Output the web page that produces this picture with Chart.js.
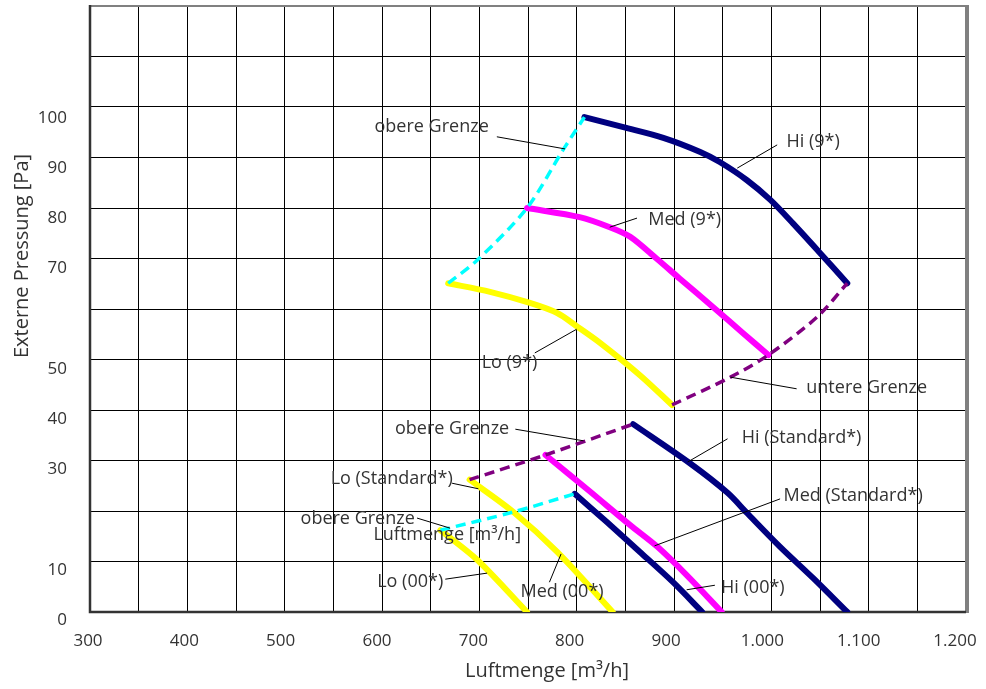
<!DOCTYPE html>
<html>
<head>
<meta charset="utf-8">
<script src="https://cdn.jsdelivr.net/npm/chart.js@4.4.1/dist/chart.umd.min.js"></script>
<style>
  html, body { margin: 0; padding: 0; background: #fff; }
  canvas { display: block; }
</style>
</head>
<body>
<canvas id="chart" width="986" height="689"></canvas>
<script>
// tick labels
const xTickValues = [300, 400, 500, 600, 700, 800, 900, 1000, 1100, 1200];
const xTickLabels = ['300', '400', '500', '600', '700', '800', '900', '1.000', '1.100', '1.200'];
const yTickValues = [0, 10, 30, 40, 50, 70, 80, 90, 100];
const yTickLabels = ['0', '10', '30', '40', '50', '70', '80', '90', '100'];

// Luftmenge [m3/h] / Externe Pressung [Pa]
const hi9X = [808, 848, 889, 927, 947, 975, 999, 1022, 1050, 1078];
const hi9Y = [98.0, 96.0, 93.9, 91.1, 89.1, 85.5, 81.6, 77.0, 71.1, 65.1];
const med9X = [749, 803, 834, 855, 882, 906, 940, 971, 997];
const med9Y = [80.0, 78.2, 76.2, 74.3, 70.0, 66.0, 60.4, 55.2, 50.9];
const lo9X = [668, 711, 752, 780, 800, 824, 865, 898];
const lo9Y = [65.1, 63.4, 61.2, 59.2, 56.6, 53.3, 46.9, 41.0];
const upper9X = [668, 698, 749, 786, 808];
const upper9Y = [65.1, 69.7, 80.0, 91.5, 98.0];
const lower9X = [898, 958, 997, 1047, 1078];
const lower9Y = [41.0, 46.5, 50.9, 58.4, 65.1];

const hiStdX = [858, 916, 955, 975, 1009, 1043, 1078];
const hiStdY = [37.2, 29.5, 23.6, 19.6, 12.9, 6.7, 0];
const medStdX = [768, 814, 855, 883, 913, 949];
const medStdY = [31.1, 23.8, 17.2, 12.9, 7.3, 0];
const loStdX = [690, 735, 780, 837];
const loStdY = [26.2, 19.8, 11.9, 0];
const upperStdX = [690, 768, 858];
const upperStdY = [26.2, 31.1, 37.2];

const hi00X = [798, 831, 865, 899, 929];
const hi00Y = [23.4, 17.8, 11.9, 5.9, 0];
const lo00X = [660, 698, 749];
const lo00Y = [16.2, 10.3, 0];
const upper00X = [660, 735, 798];
const upper00Y = [16.2, 19.8, 23.4];

const NAVY = '#000080', MAGENTA = '#ff00ff', YELLOW = '#ffff00', CYAN = '#00ffff', PURPLE = '#800080';

// callouts: text, label centre, leader start, leader end (data units)
const notes = [
    { text: 'obere Grenze', at: [651, 96.0], from: [718, 94.1], to: [788, 91.7] },
    { text: 'Hi (9*)', at: [1043, 93.1], from: [1006, 92.5], to: [965, 87.9] },
    { text: 'Med (9*)', at: [911, 77.6], from: [862, 78.0], to: [834, 76.2] },
    { text: 'Lo (9*)', at: [731, 49.3], from: [757, 51.3], to: [800, 56.0] },
    { text: 'untere Grenze', at: [1098, 44.4], from: [1026, 44.2], to: [958, 46.5] },
    { text: 'obere Grenze', at: [672, 36.2], from: [737, 36.2], to: [807, 33.9] },
    { text: 'Hi (Standard*)', at: [1031, 34.5], from: [955, 34.3], to: [914, 29.7] },
    { text: 'Lo (Standard*)', at: [610, 26.3], from: [672, 25.5], to: [699, 24.4] },
    { text: 'Med (Standard*)', at: [1084, 23.0], from: [1009, 22.4], to: [880, 13.1] },
    { text: 'obere Grenze', at: [575, 18.4], from: [636, 18.6], to: [670, 16.6] },
    { text: 'Luftmenge [m³/h]', at: [667, 15.2] },
    { text: 'Lo (00*)', at: [629, 5.9], from: [665, 6.5], to: [708, 7.7] },
    { text: 'Med (00*)', at: [785, 4.0], from: [772, 5.9], to: [784, 11.5] },
    { text: 'Hi (00*)', at: [981, 4.75], from: [942, 5.3], to: [913, 4.4] }
];

function pts(xs, ys) {
    return xs.map((x, i) => ({ x: x, y: ys[i] }));
}

function curve(label, xs, ys, color, dashed) {
    return {
        label: label,
        data: pts(xs, ys),
        showLine: true,
        borderColor: color,
        backgroundColor: color,
        borderWidth: dashed ? 3.5 : 6,
        borderDash: dashed ? [10, 6] : [],
        borderCapStyle: dashed ? 'butt' : 'round',
        borderJoinStyle: 'round',
        tension: 0.3,
        pointRadius: 0,
        fill: false,
        order: dashed ? 0 : 1
    };
}

const FONT = '"Open Sans", "Noto Sans", sans-serif';

// drop the extra room Chart.js keeps for overhanging tick labels
function noPad(s) {
    s.paddingTop = s.paddingBottom = s.paddingLeft = s.paddingRight = 0;
}

const decorPlugin = {
    id: 'decor',
    beforeDatasetsDraw(chart) {
        const { ctx, chartArea: a } = chart;
        ctx.save();
        ctx.strokeStyle = '#808080';
        ctx.lineWidth = 2;
        ctx.beginPath();
        ctx.moveTo(a.left, a.top); ctx.lineTo(a.right, a.top);
        ctx.stroke();
        ctx.lineWidth = 4;
        ctx.beginPath();
        ctx.moveTo(a.right + 1, a.top - 1); ctx.lineTo(a.right + 1, a.bottom + 1);
        ctx.stroke();
        ctx.strokeStyle = '#333';
        ctx.lineWidth = 2.5;
        ctx.beginPath();
        ctx.moveTo(a.left, a.top - 1); ctx.lineTo(a.left, a.bottom); ctx.lineTo(a.right, a.bottom);
        ctx.stroke();
        ctx.restore();
    },
    afterDatasetsDraw(chart) {
        const { ctx, scales } = chart;
        const px = v => scales.x.getPixelForValue(v[0]);
        const py = v => scales.y.getPixelForValue(v[1]);
        ctx.save();
        ctx.strokeStyle = '#000';
        ctx.lineWidth = 1;
        ctx.fillStyle = '#333';
        ctx.font = '18px ' + FONT;
        ctx.textAlign = 'center';
        ctx.textBaseline = 'middle';
        notes.forEach(n => {
            if (n.from) {
                ctx.beginPath();
                ctx.moveTo(px(n.from), py(n.from));
                ctx.lineTo(px(n.to), py(n.to));
                ctx.stroke();
            }
            ctx.fillText(n.text, px(n.at), py(n.at));
        });

        // axis titles
        ctx.font = '20px ' + FONT;
        ctx.fillText('Luftmenge [m³/h]', 547, 671);
        ctx.translate(22, 256);
        ctx.rotate(-Math.PI / 2);
        ctx.fillText('Externe Pressung [Pa]', 0, 0);
        ctx.restore();
    }
};

new Chart(document.getElementById('chart'), {
    type: 'scatter',
    data: {
        datasets: [
            curve('Hi (9*)', hi9X, hi9Y, NAVY, false),
            curve('Med (9*)', med9X, med9Y, MAGENTA, false),
            curve('Lo (9*)', lo9X, lo9Y, YELLOW, false),
            curve('obere Grenze (9*)', upper9X, upper9Y, CYAN, true),
            curve('untere Grenze', lower9X, lower9Y, PURPLE, true),
            curve('Hi (Standard*)', hiStdX, hiStdY, NAVY, false),
            curve('Med (Standard*)', medStdX, medStdY, MAGENTA, false),
            curve('Lo (Standard*)', loStdX, loStdY, YELLOW, false),
            curve('obere Grenze (Standard*)', upperStdX, upperStdY, PURPLE, true),
            curve('Hi (00*)', hi00X, hi00Y, NAVY, false),
            curve('Lo (00*)', lo00X, lo00Y, YELLOW, false),
            curve('obere Grenze (00*)', upper00X, upper00Y, CYAN, true)
        ]
    },
    options: {
        responsive: false,
        animation: false,
        devicePixelRatio: 1,
        layout: { padding: { left: 0, top: 6, right: 20, bottom: 0 } },
        plugins: { legend: { display: false }, tooltip: { enabled: false } },
        scales: {
            x: {
                type: 'linear', position: 'bottom', min: 300, max: 1200,
                ticks: { display: false, stepSize: 50 },
                grid: { color: '#000', lineWidth: 1, drawTicks: false },
                border: { display: false },
                afterFit: s => { s.height = 0; noPad(s); }
            },
            xl: {
                type: 'linear', position: 'bottom', weight: 1, min: 300, max: 1209.3,
                afterBuildTicks: s => { s.ticks = xTickValues.map(v => ({ value: v })); },
                ticks: {
                    labelOffset: -2, padding: 19, color: '#333', maxRotation: 0, autoSkip: false,
                    font: { family: FONT, size: 17 },
                    callback: v => xTickLabels[xTickValues.indexOf(v)]
                },
                grid: { display: false, drawTicks: false },
                border: { display: false },
                afterFit: s => { s.height = 77; noPad(s); }
            },
            y: {
                type: 'linear', position: 'left', min: 0, max: 120,
                ticks: { display: false, stepSize: 10 },
                grid: { color: '#000', lineWidth: 1, drawTicks: false },
                border: { display: false },
                afterFit: s => { s.width = 0; noPad(s); }
            },
            yl: {
                type: 'linear', position: 'left', weight: 1, min: 0, max: 120.7,
                afterBuildTicks: s => { s.ticks = yTickValues.map(v => ({ value: v })); },
                ticks: {
                    labelOffset: 8, padding: 23, color: '#333', autoSkip: false,
                    font: { family: FONT, size: 17 },
                    callback: v => yTickLabels[yTickValues.indexOf(v)]
                },
                grid: { display: false, drawTicks: false },
                border: { display: false },
                afterFit: s => { s.width = 90; noPad(s); }
            }
        }
    },
    plugins: [decorPlugin]
});
</script>
</body>
</html>
